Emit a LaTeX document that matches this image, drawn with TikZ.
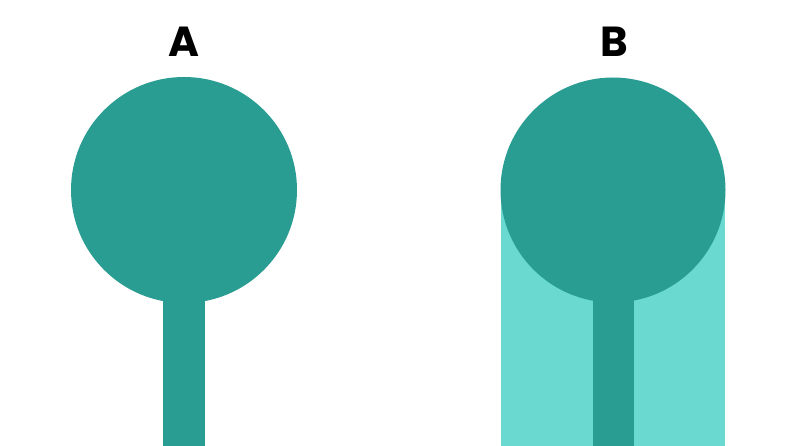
\documentclass[tikz,border=0pt]{standalone}
\usepackage{fontspec}
\setmainfont{Poppins}
\definecolor{darkteal}{HTML}{2A9D92}
\definecolor{lightteal}{HTML}{6AD9D0}
\begin{document}
\begin{tikzpicture}[x=1pt,y=-1pt,
  lbl/.style={font=\fontsize{42}{42}\selectfont\bfseries, text=black, inner sep=0pt, anchor=base}]
\useasboundingbox[fill=white] (0,0) rectangle (806,446);
% A
\fill[darkteal] (163,250) rectangle (205,446);
\fill[darkteal] (184,190) circle[radius=113];
% B
\fill[lightteal] (501,190) rectangle (725,446);
\fill[darkteal] (593,250) rectangle (634,446);
\fill[darkteal] (613,190) circle[radius=112.5];
\node[lbl] (la) at (184,57) {A};
\node[lbl] (lb) at (614,57) {B};
\end{tikzpicture}
\end{document}
